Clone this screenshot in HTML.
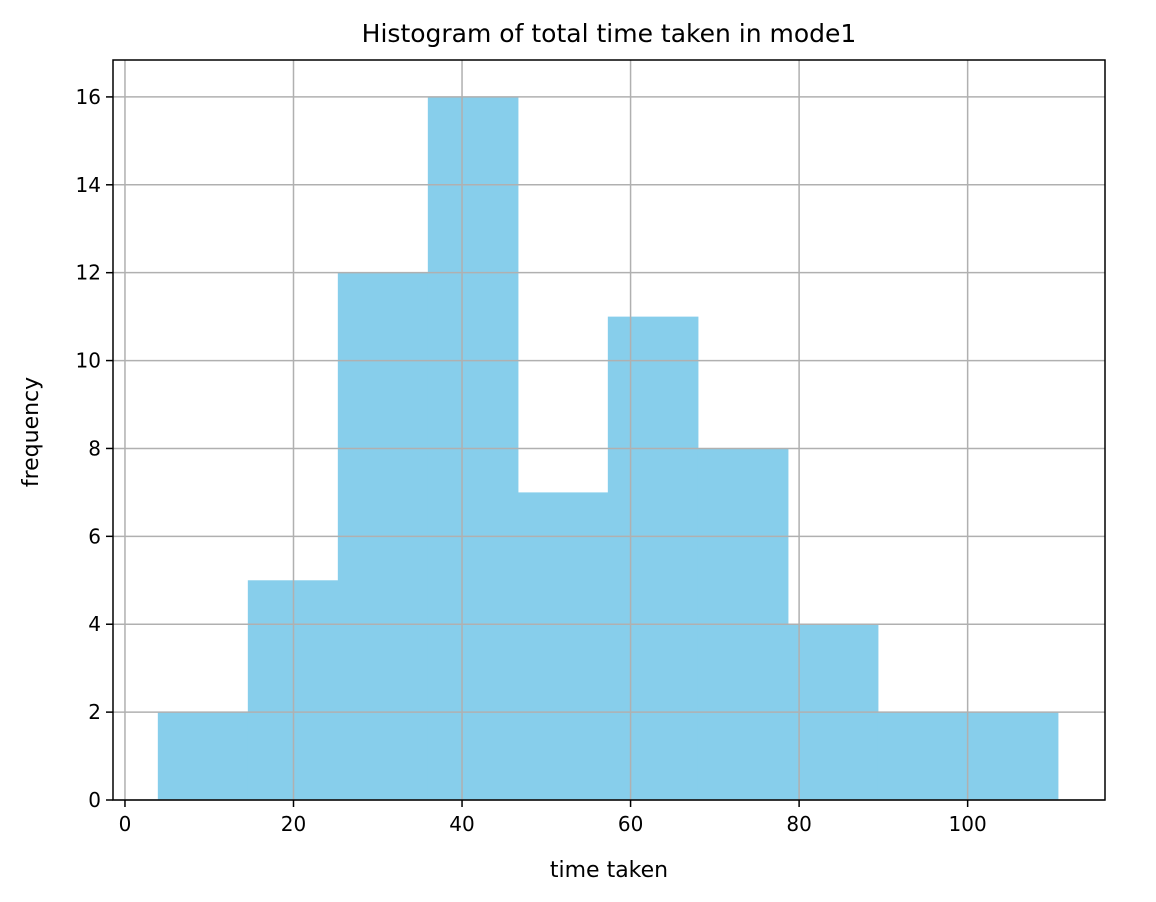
<!DOCTYPE html>
<html><head><meta charset="utf-8"><style>
html,body{margin:0;padding:0;background:#fff;}
svg{display:block;font-family:"DejaVu Sans","Liberation Sans",sans-serif;}
</style></head><body>
<svg id="chart" width="1156" height="902">
<rect x="0" y="0" width="1156" height="902" fill="#fff"/>
<g id="bars"></g>
<g id="grid"></g>
<g id="xticks"></g>
<g id="yticks"></g>
<rect x="113" y="60" width="992" height="740" fill="none" stroke="#000" stroke-width="1.5"/>
<text x="609" y="42" font-size="25" text-anchor="middle" fill="#000">Histogram of total time taken in mode1</text>
<text x="609" y="877" font-size="22" text-anchor="middle" fill="#000">time taken</text>
<text x="38" y="432" font-size="22" text-anchor="middle" fill="#000" transform="rotate(-90 38 432)">frequency</text>
</svg>
<script>
const binEdges = [3.9, 14.58, 25.26, 35.94, 46.62, 57.3, 67.98, 78.66, 89.34, 100.02, 110.7];
const counts = [2, 5, 12, 16, 7, 11, 8, 4, 2, 2];
const xTicks = [0, 20, 40, 60, 80, 100];
const yTicks = [0, 2, 4, 6, 8, 10, 12, 14, 16];

const L=113,R=1105,T=60,B=800;
const xMin=-1.42,xMax=116.3,yMin=0,yMax=16.84;
const sx=v=>L+(v-xMin)/(xMax-xMin)*(R-L);
const sy=v=>B-(v-yMin)/(yMax-yMin)*(B-T);
const NS='http://www.w3.org/2000/svg';
function mk(tag,attrs,parent){const e=document.createElementNS(NS,tag);for(const k in attrs)e.setAttribute(k,attrs[k]);parent.appendChild(e);return e;}
const grid=document.getElementById('grid'),bars=document.getElementById('bars'),xt=document.getElementById('xticks'),yt=document.getElementById('yticks');

counts.forEach((c,i)=>{
  const x0=sx(binEdges[i]),x1=sx(binEdges[i+1]);
  const r=mk('rect',{x:x0,y:sy(c),width:x1-x0+0.6,height:sy(0)-sy(c),fill:'#87ceeb'},bars);
  
  
});
xTicks.forEach(v=>{
  const x=sx(v);
  const g=mk('line',{x1:x,x2:x,y1:T,y2:B,stroke:'#b0b0b0','stroke-width':1.5},grid);
  
  
  mk('line',{x1:x,x2:x,y1:B,y2:B+7,stroke:'#000','stroke-width':1.5},xt);
  const t=mk('text',{x:x,y:B+31,'font-size':20,'text-anchor':'middle',fill:'#000'},xt);
  t.textContent=v;
  
  
});
yTicks.forEach(v=>{
  const y=sy(v);
  const g=mk('line',{x1:L,x2:R,y1:y,y2:y,stroke:'#b0b0b0','stroke-width':1.5},grid);
  
  
  mk('line',{x1:L-7,x2:L,y1:y,y2:y,stroke:'#000','stroke-width':1.5},yt);
  const t=mk('text',{x:L-12,y:y+7,'font-size':20,'text-anchor':'end',fill:'#000'},yt);
  t.textContent=v;
  
  
});
</script>
</body></html>
